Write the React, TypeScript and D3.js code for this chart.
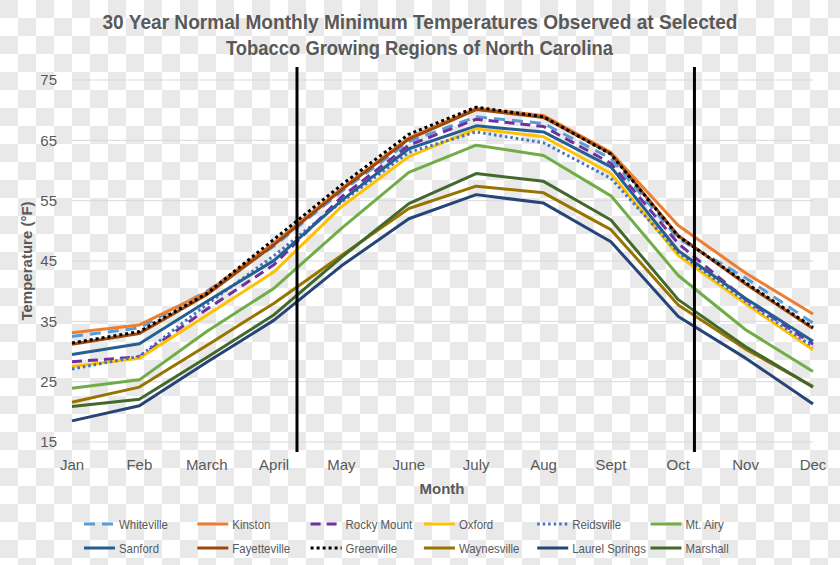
import React from "react";
import * as d3 from "d3";

const months = ["Jan", "Feb", "March", "April", "May", "June", "July", "Aug", "Sept", "Oct", "Nov", "Dec"];
const yTicks = [15, 25, 35, 45, 55, 65, 75];

const whiteville = [32.5, 33.9, 40.0, 47.5, 56.5, 64.8, 68.9, 67.8, 62.0, 48.7, 42.2, 34.7];
const kinston = [33.1, 34.4, 39.8, 48.0, 57.0, 65.4, 70.3, 69.1, 63.0, 50.9, 43.0, 36.2];
const rockyMount = [28.3, 29.1, 37.0, 44.4, 55.6, 64.2, 68.5, 67.3, 61.2, 47.9, 38.6, 31.2];
const oxford = [27.5, 28.9, 36.0, 43.2, 54.0, 62.3, 66.9, 65.6, 59.5, 45.9, 37.9, 30.3];
const reidsville = [27.1, 29.2, 37.8, 45.9, 54.8, 63.0, 66.4, 64.6, 58.7, 46.4, 38.3, 30.8];
const mtAiry = [23.9, 25.3, 33.3, 40.5, 50.4, 59.7, 64.2, 62.5, 55.8, 42.6, 33.6, 26.7];
const sanford = [29.5, 31.3, 38.3, 45.1, 55.0, 63.6, 67.4, 66.4, 60.6, 46.7, 38.8, 31.7];
const fayetteville = [31.2, 33.0, 39.4, 47.7, 56.8, 65.2, 70.1, 68.8, 62.8, 49.2, 41.2, 33.8];
const greenville = [31.4, 33.3, 39.6, 48.6, 57.6, 66.0, 70.5, 68.9, 62.7, 49.1, 41.4, 34.0];
const waynesville = [21.6, 24.1, 31.0, 38.0, 45.9, 53.7, 57.4, 56.3, 50.2, 37.7, 30.4, 24.2];
const laurelSprings = [18.5, 21.0, 28.2, 35.2, 44.2, 52.0, 56.0, 54.6, 48.2, 35.8, 28.9, 21.3];
const marshall = [20.9, 22.1, 29.0, 36.1, 45.6, 54.5, 59.5, 58.2, 51.8, 38.6, 30.8, 24.1];

// fractional month positions (0 = Jan) of the two vertical marker lines
const markerMonths = [3.34, 9.24];

const seriesNames = ["Whiteville", "Kinston", "Rocky Mount", "Oxford", "Reidsville", "Mt. Airy", "Sanford", "Fayetteville", "Greenville", "Waynesville", "Laurel Springs", "Marshall"];
const seriesValues = [whiteville, kinston, rockyMount, oxford, reidsville, mtAiry, sanford, fayetteville, greenville, waynesville, laurelSprings, marshall];
const seriesColors = ["#5B9BD5", "#ED7D31", "#7030A0", "#FFC000", "#4472C4", "#70AD47", "#255E91", "#9E480E", "#000000", "#997300", "#264478", "#43682B"];
const seriesDash = ["11,7", null, "10,6", null, "2.5,3", null, null, null, "3,3", null, null, null];

const W = 840;
const H = 565;
const textColor = "#595959";
const font = "'Liberation Sans', Arial, sans-serif";

export default function App() {
  const x = d3.scaleLinear().domain([0, 11]).range([72, 813]);
  const y = d3.scaleLinear().domain([15, 75]).range([442, 80]);
  const line = d3
    .line<number>()
    .x((_, i) => x(i))
    .y((d) => y(d));

  return (
    <div style={{ position: "absolute", left: 0, top: 0 }}>
      <svg width={W} height={H} style={{ display: "block" }}>
        <defs>
          <pattern id="checker" x={0} y={0} width={36} height={36} patternUnits="userSpaceOnUse">
            <rect x={0} y={0} width={36} height={36} fill="#ffffff" />
            <rect x={0} y={0} width={18} height={18} fill="#e9e9e9" />
            <rect x={18} y={18} width={18} height={18} fill="#e9e9e9" />
          </pattern>
        </defs>
        <rect x={0} y={0} width={W} height={H} fill="url(#checker)" />

        {/* Title */}
        <g fontFamily={font} fontWeight="bold" fill={textColor} fontSize={20} textAnchor="middle">
          <text x={420} y={29} textLength={635} lengthAdjust="spacingAndGlyphs">
            30 Year Normal Monthly Minimum Temperatures Observed at Selected
          </text>
          <text x={419.5} y={55} textLength={387} lengthAdjust="spacingAndGlyphs">
            Tobacco Growing Regions of North Carolina
          </text>
        </g>

        {/* Gridlines */}
        {yTicks.map((t) => (
          <line key={t} x1={x(0)} x2={x(11)} y1={y(t)} y2={y(t)} stroke="#d9d9d9" strokeWidth={1} />
        ))}

        {/* Y tick labels */}
        <g fontFamily={font} fontSize={15} fill={textColor} textAnchor="end">
          {yTicks.map((t) => (
            <text key={t} x={57} y={y(t)} dy="0.35em">
              {t}
            </text>
          ))}
        </g>

        {/* X tick labels */}
        <g fontFamily={font} fontSize={15} fill={textColor} textAnchor="middle">
          {months.map((m, i) => (
            <text key={m} x={x(i)} y={465} dy="0.35em">
              {m}
            </text>
          ))}
        </g>

        {/* Axis titles */}
        <text x={442} y={489} dy="0.35em" textAnchor="middle" fontFamily={font} fontSize={15} fontWeight="bold" fill={textColor}>
          Month
        </text>
        <text
          transform={`translate(27,261) rotate(-90)`}
          textAnchor="middle"
          dy="0.35em"
          fontFamily={font}
          fontSize={15}
          fontWeight="bold"
          fill={textColor}
        >
          Temperature (°F)
        </text>

        {/* Series */}
        {seriesValues.map((vals, i) => (
          <path
            key={seriesNames[i]}
            d={line(vals) || ""}
            fill="none"
            stroke={seriesColors[i]}
            strokeWidth={3}
            strokeDasharray={seriesDash[i] || undefined}
            strokeLinejoin="round"
          />
        ))}

        {/* Vertical marker lines */}
        {markerMonths.map((m, i) => (
          <line key={i} x1={x(m)} x2={x(m)} y1={67} y2={452} stroke="#000" strokeWidth={3} />
        ))}

        {/* Legend */}
        <g fontFamily={font} fontSize={13} fill={textColor}>
          {seriesNames.map((name, i) => {
            const col = i % 6;
            const row = Math.floor(i / 6);
            const lx = 84 + col * 113.3;
            const ly = 524 + row * 24;
            return (
              <g key={name}>
                <line
                  x1={lx}
                  x2={lx + 31}
                  y1={ly}
                  y2={ly}
                  stroke={seriesColors[i]}
                  strokeWidth={3}
                  strokeDasharray={seriesDash[i] || undefined}
                />
                <text transform={`translate(${lx + 35},${ly}) scale(0.88,1)`} dy="0.35em">
                  {name}
                </text>
              </g>
            );
          })}
        </g>
      </svg>
    </div>
  );
}
